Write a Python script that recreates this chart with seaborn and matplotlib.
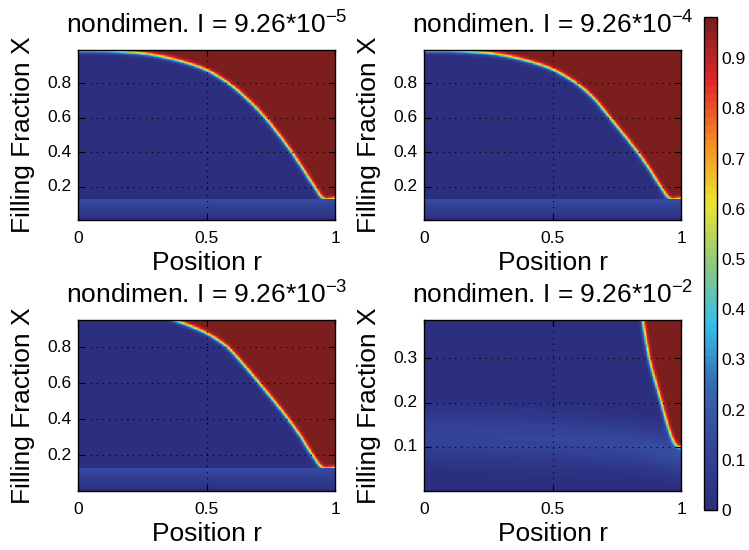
import numpy as np
import matplotlib
matplotlib.use("Agg")
import matplotlib.pyplot as plt
import seaborn as sns
from matplotlib.colors import LinearSegmentedColormap

# ---------------- data ----------------
exponents = [-5, -4, -3, -2]
x_ticks = [0, 0.5, 1]
x_ticklabels = ["0", "0.5", "1"]
y_ticks = [[0.2, 0.4, 0.6, 0.8], [0.2, 0.4, 0.6, 0.8],
           [0.2, 0.4, 0.6, 0.8], [0.1, 0.2, 0.3]]
y_ranges = [(0.007, 0.993), (0.007, 0.993), (0.0, 0.952), (0.0, 0.387)]

# phase-front positions (r, X) for each panel
front_r1 = [0.0, 0.13, 0.28, 0.41, 0.5, 0.581, 0.65, 0.721, 0.775, 0.825, 0.87, 0.916, 0.955, 1.0]
front_X1 = [0.986, 0.982, 0.963, 0.92, 0.872, 0.8, 0.715, 0.607, 0.508, 0.408, 0.308, 0.203, 0.128, 0.128]
front_r2 = [0.0, 0.12, 0.28, 0.41, 0.5, 0.588, 0.655, 0.717, 0.775, 0.828, 0.873, 0.918, 0.957, 1.0]
front_X2 = [0.986, 0.983, 0.965, 0.923, 0.876, 0.8, 0.716, 0.606, 0.5, 0.4, 0.305, 0.2, 0.128, 0.128]
front_r3 = [0.33, 0.365, 0.423, 0.5, 0.578, 0.64, 0.702, 0.76, 0.815, 0.865, 0.909, 0.952, 1.0]
front_X3 = [0.972, 0.952, 0.922, 0.874, 0.8, 0.705, 0.6, 0.5, 0.4, 0.3, 0.2, 0.126, 0.126]
front_r4 = [0.843, 0.848, 0.874, 0.921, 0.950, 0.967, 0.982, 0.993, 1.0]
front_X4 = [0.40, 0.387, 0.3, 0.2, 0.14, 0.115, 0.102, 0.0985, 0.098]
fronts_r = [front_r1, front_r2, front_r3, front_r4]
fronts_X = [front_X1, front_X2, front_X3, front_X4]

band_top = [0.128, 0.128, 0.126]
band_gain = 1.15

# diffuse low-X band in the last panel
p4_ridge_r = [0.0, 0.5, 0.8, 1.0]
p4_ridge_X = [0.125, 0.118, 0.105, 0.085]
p4_ridge_peak = [0.12, 0.125, 0.135, 0.155]
p4_ridge_width = [0.058, 0.058, 0.052, 0.047]

vmax = 0.982
cbar_ticks = [0, 0.1, 0.2, 0.3, 0.4, 0.5, 0.6, 0.7, 0.8, 0.9]
cbar_ticklabels = ["0", "0.1", "0.2", "0.3", "0.4", "0.5", "0.6", "0.7", "0.8", "0.9"]

# printed-jet colour map
cmap_pos = [0.0, 0.125, 0.25, 0.375, 0.5, 0.625, 0.75, 0.875, 1.0]
cmap_cols = ["#2c2e7e", "#34469c", "#3569b3", "#38beea", "#8dc97f",
             "#ece52d", "#f48c22", "#e2262a", "#7d1e1e"]
cmap = LinearSegmentedColormap.from_list("printjet", list(zip(cmap_pos, cmap_cols)), N=64)

# ---------------- style ----------------
sns.set_theme(style="white")
plt.rcParams['font.family'] = ['Liberation Sans', 'DejaVu Sans']
plt.rcParams['mathtext.fontset'] = 'custom'
plt.rcParams['mathtext.rm'] = 'Liberation Sans'
plt.rcParams['mathtext.it'] = 'Liberation Sans:italic'
plt.rcParams['mathtext.bf'] = 'Liberation Sans:bold'
for key in ['text.color', 'axes.labelcolor', 'xtick.color', 'ytick.color']:
    plt.rcParams[key] = 'black'

FS_LABEL = 19
FS_TICK = 12.5
NX, NY = 420, 280
AX_W, AX_H = 257.0, 170.0


def smooth_curve(xs, ys, n=16):
    """Centripetal Catmull-Rom smoothing through the front points (drawing helper)."""
    P = np.column_stack([xs, ys]).astype(float)
    P = np.vstack([2 * P[0] - P[1], P, 2 * P[-1] - P[-2]])
    out = []
    for k in range(1, len(P) - 2):
        p0, p1, p2, p3 = P[k - 1], P[k], P[k + 1], P[k + 2]
        t0 = 0.0
        t1 = t0 + max(np.linalg.norm(p1 - p0), 1e-6) ** 0.5
        t2 = t1 + max(np.linalg.norm(p2 - p1), 1e-6) ** 0.5
        t3 = t2 + max(np.linalg.norm(p3 - p2), 1e-6) ** 0.5
        t = np.linspace(t1, t2, n, endpoint=False)[:, None]
        A1 = (t1 - t) / (t1 - t0) * p0 + (t - t0) / (t1 - t0) * p1
        A2 = (t2 - t) / (t2 - t1) * p1 + (t - t1) / (t2 - t1) * p2
        A3 = (t3 - t) / (t3 - t2) * p2 + (t - t2) / (t3 - t2) * p3
        B1 = (t2 - t) / (t2 - t0) * A1 + (t - t0) / (t2 - t0) * A2
        B2 = (t3 - t) / (t3 - t1) * A2 + (t - t1) / (t3 - t1) * A3
        out.append((t2 - t) / (t2 - t1) * B1 + (t - t1) / (t2 - t1) * B2)
    out.append(P[-2][None])
    return np.vstack(out)


def build_field(i):
    ylo, yhi = y_ranges[i]
    r = (np.arange(NX) + 0.5) / NX
    X = yhi - (np.arange(NY) + 0.5) / NY * (yhi - ylo)
    R, XX = np.meshgrid(r, X)
    px = R * AX_W
    py = (XX - ylo) / (yhi - ylo) * AX_H
    br = np.array(fronts_r[i])
    bX = np.array(fronts_X[i])
    C = smooth_curve(br * AX_W, (bX - ylo) / (yhi - ylo) * AX_H)
    bx, by = C[:, 0], C[:, 1]
    d = np.full(R.shape, np.inf)
    for k in range(len(bx) - 1):
        x0, y0 = bx[k], by[k]
        dx, dy = bx[k + 1] - x0, by[k + 1] - y0
        L2 = dx * dx + dy * dy
        if L2 == 0:
            continue
        t = np.clip(((px - x0) * dx + (py - y0) * dy) / L2, 0, 1)
        d = np.minimum(d, np.hypot(px - x0 - t * dx, py - y0 - t * dy))
    order = np.argsort(bx)
    above = py > np.interp(px, bx[order], by[order])
    sd = np.where(above, d, -d)
    front = vmax / (1.0 + np.exp(-(sd - 0.3) / 1.25))
    if i < 3:
        Z = np.where(XX < band_top[i], XX * band_gain, front)
    else:
        c = np.interp(R, p4_ridge_r, p4_ridge_X)
        pk = np.interp(R, p4_ridge_r, p4_ridge_peak)
        s = np.interp(R, p4_ridge_r, p4_ridge_width)
        base = pk * np.exp(-((XX - c) / s) ** 2)
        Z = front + (1 - front / vmax) * base
    return Z


fig = plt.figure(figsize=(7.49, 5.5), dpi=100)
W, H = 749.0, 550.0
boxes = [(78, 50, 257, 170), (424, 50, 257, 170), (78, 320, 257, 171), (424, 320, 257, 171)]
axes = [fig.add_axes([l / W, 1 - (t + h) / H, w / W, h / H]) for (l, t, w, h) in boxes]
cax = fig.add_axes([704 / W, 40 / H, 13 / W, 493 / H])

for i, ax in enumerate(axes):
    Z = build_field(i)
    sns.heatmap(Z, ax=ax, cmap=cmap, vmin=0, vmax=vmax,
                cbar=(i == 0), cbar_ax=(cax if i == 0 else None),
                xticklabels=False, yticklabels=False, rasterized=True)
    ylo, yhi = y_ranges[i]
    ax.set_xticks([x * NX for x in x_ticks])
    ax.set_xticklabels(x_ticklabels, rotation=0)
    ax.set_yticks([(yhi - y) / (yhi - ylo) * NY for y in y_ticks[i]])
    ax.set_yticklabels([f"{y:g}" for y in y_ticks[i]], rotation=0, va="center")
    ax.tick_params(axis="both", direction="in", length=4, width=0.8, color="black",
                   labelcolor="black", top=True, right=True, bottom=True, left=True,
                   labelsize=FS_TICK)
    ax.tick_params(axis="x", pad=8.2)
    ax.tick_params(axis="y", pad=4.5)
    for sp in ax.spines.values():
        sp.set_visible(True)
        sp.set_linewidth(1.0)
        sp.set_color("black")
    ax.grid(True, color="black", linestyle=(0, (1, 4.5)), linewidth=0.8)
    ax.set_axisbelow(False)
    ax.set_xlabel("Position r", fontsize=FS_LABEL, labelpad=3.5, color="black")
    ax.set_ylabel("Filling Fraction X", fontsize=FS_LABEL, labelpad=9, color="black")
    ax.set_title(r"nondimen. I = 9.26*$10^{%d}$" % exponents[i], fontsize=FS_LABEL,
                 pad=12, color="black")

cb = axes[0].collections[0].colorbar
cb.set_ticks(cbar_ticks)
cb.set_ticklabels(cbar_ticklabels)
cb.outline.set_visible(True)
cb.outline.set_linewidth(1.0)
cb.outline.set_edgecolor("black")
cax.tick_params(direction="in", left=True, right=True, length=4, width=0.8,
                color="black", labelcolor="black", labelsize=FS_TICK, pad=3.4)

fig.savefig("out.png", dpi=100)
